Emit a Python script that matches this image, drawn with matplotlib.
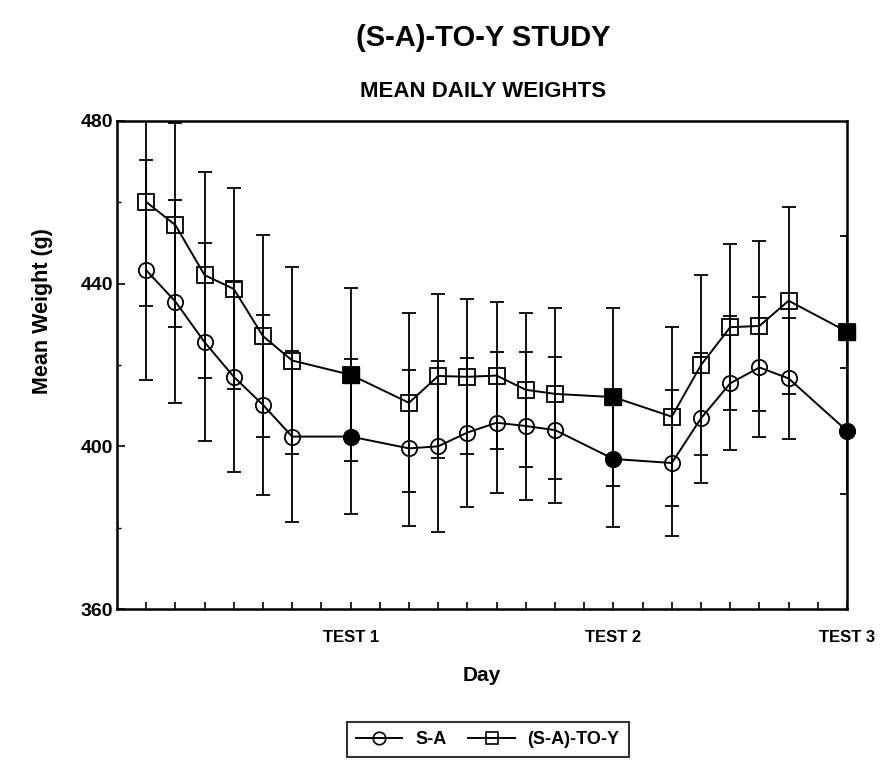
import matplotlib
matplotlib.use("Agg")
import matplotlib.pyplot as plt
from matplotlib.lines import Line2D
from matplotlib.ticker import MultipleLocator
import numpy as np

plt.rcParams['font.family'] = ['Liberation Sans', 'DejaVu Sans']
plt.rcParams['font.weight'] = 'bold'

# days that were sampled, tests on day 8, 17 and 25
days = [1, 2, 3, 4, 5, 6, 8, 10, 11, 12, 13, 14, 15, 17, 19, 20, 21, 22, 23, 25]
test_days = [8, 17, 25]
test_labels = ['TEST 1', 'TEST 2', 'TEST 3']

# S-A group
sa_mean = [443.3, 435.6, 425.6, 417.1, 410.2, 402.4, 402.4, 399.5, 400.0, 403.4,
           405.8, 405.0, 404.0, 396.9, 395.9, 406.9, 415.5, 419.4, 416.7, 403.8]
sa_sd = [27.1, 25.0, 24.3, 23.3, 22.2, 21.0, 19.0, 19.2, 21.0, 18.4,
         17.3, 18.1, 18.0, 16.8, 17.9, 16.0, 16.5, 17.2, 14.8, 15.5]

# (S-A)-TO-Y group
y_mean = [460.1, 454.4, 442.1, 438.7, 427.1, 421.1, 417.6, 410.7, 417.3, 417.1,
          417.4, 413.9, 412.9, 412.1, 407.3, 420.0, 429.3, 429.6, 435.8, 428.2]
y_sd = [25.6, 25.0, 25.4, 24.7, 24.8, 23.0, 21.3, 22.0, 20.1, 19.1,
        18.0, 18.9, 21.0, 21.9, 22.0, 22.1, 20.4, 20.9, 23.0, 23.5]

fig = plt.figure(figsize=(8.93, 7.78), dpi=100)
ax = fig.add_axes([0.131, 0.2172, 0.8175, 0.6273])

d = np.array(days)
is_test = np.isin(d, test_days)

for mean, sd, mk in [(sa_mean, sa_sd, 'o'), (y_mean, y_sd, 's')]:
    mean = np.array(mean)
    ax.errorbar(d, mean, yerr=sd, fmt='none', ecolor='black', elinewidth=1.3,
                capsize=5, capthick=1.3, zorder=2)
    ax.plot(d, mean, color='black', lw=1.4, marker=mk, ms=11, mfc='none',
            mec='black', mew=1.3, zorder=3, clip_on=False)
    # test days drawn solid
    ax.plot(d[is_test], mean[is_test], ls='none', marker=mk, ms=11,
            mfc='black', mec='black', zorder=4, clip_on=False)

ax.set_xlim(0, 25)
ax.set_ylim(360, 480)
ax.set_xticks(test_days)
ax.set_xticklabels(test_labels)
ax.set_xticks(range(1, 25), minor=True)
ax.set_yticks([360, 400, 440, 480])
ax.yaxis.set_minor_locator(MultipleLocator(20))
ax.tick_params(axis='x', which='both', direction='in', length=5, width=1.2,
               labelsize=12, pad=15)
ax.tick_params(axis='y', which='major', direction='in', length=6, width=1.2,
               labelsize=14, pad=3)
ax.tick_params(axis='y', which='minor', direction='in', length=3, width=1)
for s in ax.spines.values():
    s.set_linewidth(1.8)

ax.set_xlabel('Day', fontsize=15, fontweight='bold', labelpad=15)
ax.set_ylabel('Mean Weight (g)', fontsize=15.5, fontweight='bold')
ax.yaxis.set_label_coords(-0.087, 0.61)

fig.text(0.541, 0.951, '(S-A)-TO-Y STUDY', ha='center', va='center',
         fontsize=21, fontweight='bold')
fig.text(0.541, 0.883, 'MEAN DAILY WEIGHTS', ha='center', va='center',
         fontsize=16, fontweight='bold')

handles = [
    Line2D([], [], color='black', lw=1.4, marker='o', ms=9, mfc='none', mew=1.2),
    Line2D([], [], color='black', lw=1.4, marker='s', ms=9, mfc='none', mew=1.2),
]
leg = fig.legend(handles, ['S-A', '(S-A)-TO-Y'], loc='center', ncol=2,
                 bbox_to_anchor=(0.546, 0.049), frameon=True, fancybox=False,
                 edgecolor='black', handlelength=2.6, handletextpad=0.7,
                 columnspacing=1.2, borderpad=0.5, borderaxespad=0,
                 prop={'size': 13, 'weight': 'bold'})
leg.get_frame().set_linewidth(1.5)

fig.savefig('out.png', dpi=100)
